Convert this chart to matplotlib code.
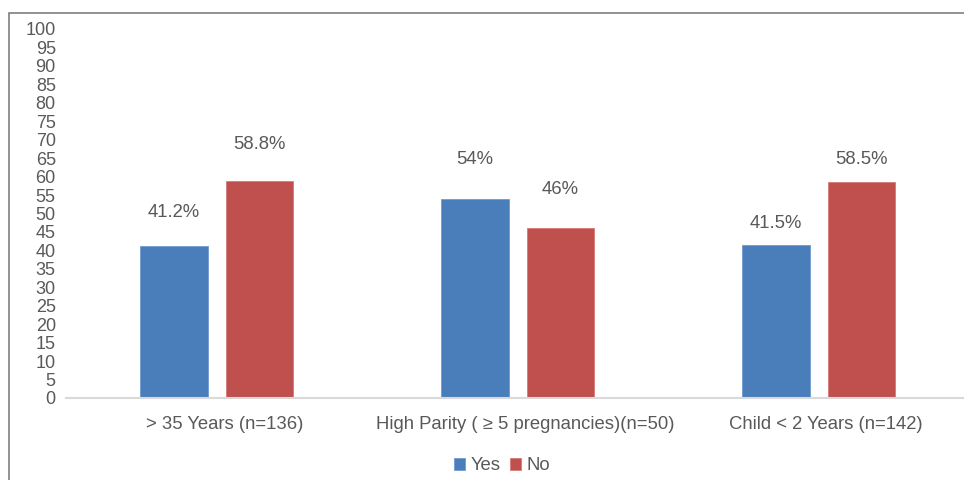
import numpy as np
import matplotlib.pyplot as plt
from matplotlib.patches import Rectangle
from matplotlib.transforms import ScaledTranslation

plt.rcParams['font.family'] = ['Liberation Sans', 'DejaVu Sans']

categories = ['> 35 Years (n=136)', 'High Parity ( \u2265 5 pregnancies)(n=50)', 'Child < 2 Years (n=142)']
yes_vals = [41.2, 54, 41.5]
no_vals = [58.8, 46, 58.5]
yes_labels = ['41.2%', '54%', '41.5%']
no_labels = ['58.8%', '46%', '58.5%']
# how far above each bar its label sits (data units)
yes_lift = [9.2, 10.5, 5.9]
no_lift = [10.0, 10.6, 6.0]

txt = '#595959'
blue = '#4A7EBB'
red = '#C0504D'
fs = 13.3

fig = plt.figure(figsize=(9.64, 4.8), dpi=100)
ax = fig.add_axes([66.2 / 964, 82 / 480, 903 / 964, 369 / 480])

x = np.arange(len(categories))
w = 0.225
off = 0.142
ax.bar(x - off, yes_vals, w, color=blue, edgecolor='#6F9AD0', linewidth=0.6, label='Yes')
ax.bar(x + off, no_vals, w, color=red, edgecolor='#D47A77', linewidth=0.6, label='No')

for i in range(len(categories)):
    ax.text(x[i] - off, yes_vals[i] + yes_lift[i], yes_labels[i], ha='center', va='center',
            fontsize=fs, color=txt)
    ax.text(x[i] + off, no_vals[i] + no_lift[i], no_labels[i], ha='center', va='center',
            fontsize=fs, color=txt)

ax.set_xlim(-0.5, 2.5)
ax.set_ylim(0, 100)
ax.set_yticks(np.arange(0, 101, 5))
ax.set_xticks(x)
ax.set_xticklabels(categories)
ax.tick_params(axis='both', length=0, labelsize=fs, labelcolor=txt)
ax.tick_params(axis='y', pad=7.5, labelsize=13)
ax.tick_params(axis='x', pad=13)
# category labels sit a little right of the group centre in the original
shift = ScaledTranslation(7.5 / 100, 0, fig.dpi_scale_trans)
for lab in ax.get_xticklabels():
    lab.set_transform(lab.get_transform() + shift)
for s in ['top', 'right', 'left']:
    ax.spines[s].set_visible(False)
ax.spines['bottom'].set_color('#D9D9D9')
ax.spines['bottom'].set_linewidth(1.5)

leg = fig.legend(loc='center', bbox_to_anchor=(502 / 964, 1 - 465.7 / 480), ncol=2, frameon=False,
                 fontsize=fs, handlelength=0.6, handleheight=0.6, handletextpad=0.27,
                 columnspacing=0.53, labelcolor=txt, borderpad=0, borderaxespad=0)

fig.patches.append(Rectangle((8.5 / 964, -0.1), 1.2, 1.1 - 12.8 / 480, transform=fig.transFigure,
                             fill=False, edgecolor='#7F7F7F', linewidth=1.2))

fig.savefig('out.png', dpi=100)
